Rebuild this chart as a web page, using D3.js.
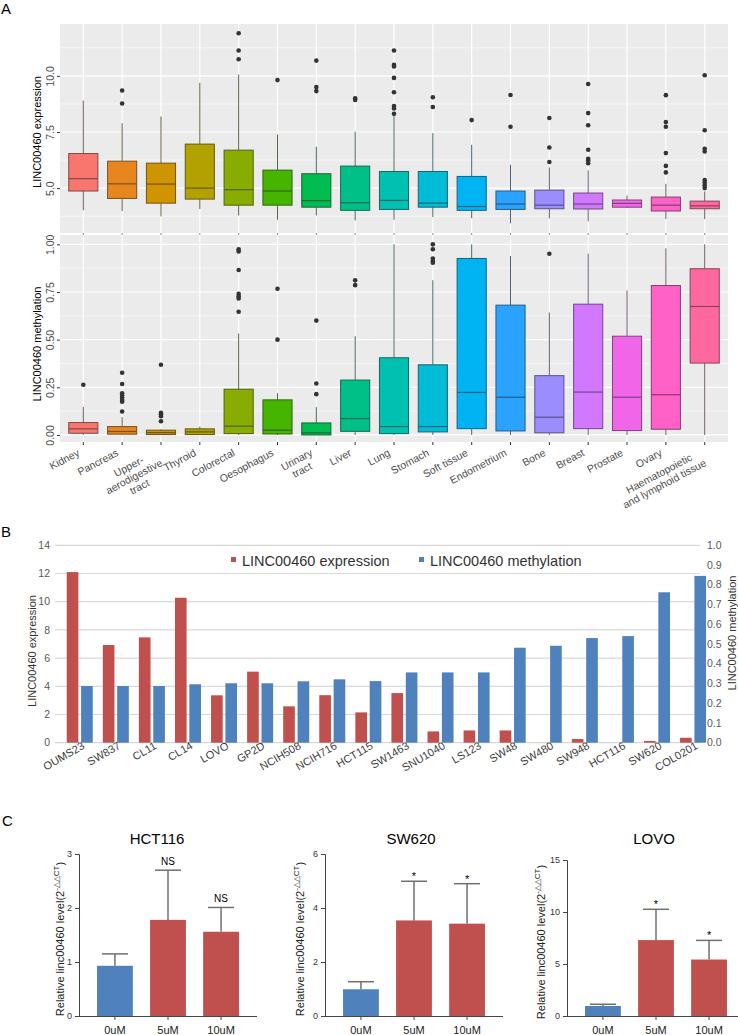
<!DOCTYPE html>
<html>
<head>
<meta charset="utf-8">
<script src="https://cdn.jsdelivr.net/npm/d3@7"></script>
<style>
  body { margin: 0; background: #fff; }
  text { font-family: "Liberation Sans", Arial, sans-serif; }
</style>
</head>
<body>
<svg id="fig" width="738" height="1035"></svg>
<script>
// ---- panel A : tissues, box stats [lower whisker, q1, median, q3, upper whisker]
var tissues = ["Kidney", "Pancreas", "Upper-\naerodigestive\ntract", "Thyroid", "Colorectal",
  "Oesophagus", "Urinary\ntract", "Liver", "Lung", "Stomach", "Soft tissue", "Endometrium",
  "Bone", "Breast", "Prostate", "Ovary", "Haematopoietic\nand lymphoid tissue"];

var exprBox = [
  [4.01, 4.87, 5.42, 6.54, 8.90], [3.98, 4.54, 5.19, 6.20, 7.89], [3.74, 4.33, 5.18, 6.11, 8.19],
  [4.07, 4.51, 5.00, 6.96, 9.69], [3.78, 4.24, 4.93, 6.69, 10.06], [3.59, 4.24, 4.87, 5.80, 7.39],
  [3.78, 4.15, 4.44, 5.64, 6.84], [3.56, 4.01, 4.35, 5.98, 7.51], [3.59, 4.05, 4.45, 5.74, 8.25],
  [3.71, 4.15, 4.33, 5.74, 7.45], [3.66, 4.01, 4.18, 5.52, 6.93], [3.43, 4.05, 4.29, 4.87, 6.04],
  [3.65, 4.08, 4.24, 4.91, 5.92], [3.52, 4.07, 4.29, 4.78, 5.79], [4.11, 4.15, 4.32, 4.47, 4.67],
  [3.62, 3.98, 4.24, 4.60, 5.19], [3.62, 4.08, 4.21, 4.42, 4.85]
];
var exprOut = [
  [], [9.35, 8.77], [], [], [11.90, 11.13, 10.74], [9.81], [10.68, 9.50, 9.32], [9.00, 8.93],
  [11.13, 10.49, 10.42, 9.91, 9.27, 8.66, 8.55, 8.31], [9.05, 8.61], [8.03], [9.15, 7.73],
  [8.12, 6.81, 6.16], [9.64, 8.34, 7.80, 6.71, 6.31, 6.23, 6.11], [],
  [9.14, 7.94, 7.73, 6.56, 5.99, 5.70], [10.03, 7.58, 6.75, 6.63, 5.36, 5.25, 5.13, 5.00]
];
var methBox = [
  [0, 0.009, 0.032, 0.065, 0.147], [0, 0.004, 0.018, 0.044, 0.093], [0, 0.002, 0.012, 0.025, 0.030],
  [0, 0.002, 0.016, 0.032, 0.044], [0, 0.007, 0.046, 0.240, 0.532], [0, 0.005, 0.025, 0.184, 0.219],
  [0, 0.000, 0.011, 0.063, 0.146], [0, 0.019, 0.086, 0.288, 0.518], [0, 0.007, 0.044, 0.405, 1.0],
  [0, 0.016, 0.044, 0.368, 0.812], [0, 0.033, 0.223, 0.926, 1.0], [0, 0.021, 0.198, 0.681, 0.939],
  [0, 0.011, 0.093, 0.311, 0.642], [0, 0.033, 0.225, 0.686, 0.951], [0, 0.023, 0.198, 0.518, 0.758],
  [0, 0.030, 0.211, 0.784, 0.979], [0, 0.377, 0.674, 0.872, 1.0]
];
var methOut = [
  [0.263], [0.326, 0.267, 0.219, 0.207, 0.196, 0.184, 0.174, 0.123],
  [0.368, 0.116, 0.109, 0.098, 0.072], [], [0.974, 0.963, 0.865, 0.740, 0.728, 0.716, 0.646],
  [0.767, 0.5], [0.6, 0.270, 0.214], [0.811, 0.786], [], [1.0, 0.974, 0.926, 0.912, 0.904],
  [], [], [0.951], [], [], [], []
];
var exprTicks = [5, 7.5, 10], exprMinor = [3.75, 6.25, 8.75, 11.25];
var methTicks = [0, 0.25, 0.5, 0.75, 1], methMinor = [0.125, 0.375, 0.625, 0.875];

// ---- panel B : cell lines
var cellLines = ["OUMS23", "SW837", "CL11", "CL14", "LOVO", "GP2D", "NCIH508", "NCIH716", "HCT115",
  "SW1463", "SNU1040", "LS123", "SW48", "SW480", "SW948", "HCT116", "SW620", "COL0201"];
var lineExpr = [12.1, 6.93, 7.47, 10.28, 3.36, 5.04, 2.58, 3.37, 2.15, 3.52, 0.80, 0.87, 0.87, 0, 0.26, 0, 0.12, 0.35];
var lineMeth = [0.287, 0.287, 0.287, 0.296, 0.301, 0.301, 0.311, 0.321, 0.312, 0.356, 0.356, 0.356,
  0.481, 0.491, 0.530, 0.540, 0.762, 0.845];

// ---- panel C : qPCR
var doses = ["0uM", "5uM", "10uM"];
var qCells = ["HCT116", "SW620", "LOVO"];
var qMean = [[0.93, 1.78, 1.56], [0.99, 3.54, 3.42], [0.96, 7.30, 5.43]];
var qSd = [[0.22, 0.92, 0.45], [0.28, 1.45, 1.48], [0.17, 2.96, 1.84]];
var qSig = [["", "NS", "NS"], ["", "*", "*"], ["", "*", "*"]];
var qTicks = [[0, 1, 2, 3], [0, 2, 4, 6], [0, 5, 10, 15]];

// ggplot-like hue palette (polar LUV, l=65 c=100)
function hueColor(h) {
  var L = 65, C = 100, hr = h * Math.PI / 180;
  var u = C * Math.cos(hr), v = C * Math.sin(hr);
  var Y = Math.pow((L + 16) / 116, 3);
  var up = u / (13 * L) + 0.1978398, vp = v / (13 * L) + 0.4683363;
  var X = 9 * Y * up / (4 * vp), Z = Y * (12 - 3 * up - 20 * vp) / (4 * vp);
  var lin = [3.240479 * X - 1.537150 * Y - 0.498535 * Z,
             -0.969256 * X + 1.875992 * Y + 0.041556 * Z,
             0.055648 * X - 0.204043 * Y + 1.057311 * Z];
  var c = lin.map(function(x) {
    x = x <= 0.0031308 ? 12.92 * x : 1.055 * Math.pow(x, 1 / 2.4) - 0.055;
    return Math.round(255 * Math.max(0, Math.min(1, x)));
  });
  return d3.rgb(c[0], c[1], c[2]).formatHex();
}
var fills = tissues.map(function(d, i) { return hueColor(15 + 360 * i / tissues.length); });

var svg = d3.select("#fig");

// panel letters
[["A", 1, 14], ["B", 1, 537], ["C", 2, 826]].forEach(function(p) {
  svg.append("text").attr("x", p[1]).attr("y", p[2]).attr("font-size", 15).text(p[0]);
});

// ================= Panel A =================
var xA = d3.scalePoint().domain(tissues).range([60, 728]).padding(0.6);
var facets = [
  {box: exprBox, out: exprOut, y: d3.scaleLinear().domain([3.0, 12.31]).range([233, 24]),
   ticks: exprTicks, minor: exprMinor, fmt: d3.format(".1f"), title: "LINC00460 expression", tY: 132},
  {box: methBox, out: methOut, y: d3.scaleLinear().domain([-0.037, 1.049]).range([442, 235]),
   ticks: methTicks, minor: methMinor, fmt: d3.format(".2f"), title: "LINC00460 methylation", tY: 344}
];

var boxW = xA.step() * 0.75;

facets.forEach(function(f) {
  var g = svg.append("g");
  var r = f.y.range();
  g.append("rect").attr("x", 60).attr("y", r[1]).attr("width", 668).attr("height", r[0] - r[1])
    .attr("fill", "#ebebeb");
  g.selectAll(".mn").data(f.minor).enter().append("line")
    .attr("x1", 60).attr("x2", 728).attr("y1", f.y).attr("y2", f.y)
    .attr("stroke", "#fff").attr("stroke-width", 0.6);
  g.selectAll(".mj").data(f.ticks).enter().append("line")
    .attr("x1", 60).attr("x2", 728).attr("y1", f.y).attr("y2", f.y)
    .attr("stroke", "#fff").attr("stroke-width", 1.2);
  g.selectAll(".vx").data(tissues).enter().append("line")
    .attr("x1", xA).attr("x2", xA).attr("y1", r[1]).attr("y2", r[0])
    .attr("stroke", "#fff").attr("stroke-width", 1.2);

  // y axis
  var ax = g.append("g").attr("transform", "translate(60,0)")
    .call(d3.axisLeft(f.y).tickValues(f.ticks).tickSize(3).tickFormat(f.fmt));
  ax.select(".domain").remove();
  ax.selectAll("line").attr("stroke", "#333");
  ax.selectAll("text").attr("x", 0).attr("y", -6.5).attr("dy", 0)
    .attr("text-anchor", "middle").attr("transform", "rotate(-90)")
    .attr("fill", "#4d4d4d").attr("font-size", 10.5).attr("font-family", null);

  g.append("text").attr("transform", "translate(41," + f.tY + ") rotate(-90)")
    .attr("text-anchor", "middle").attr("font-size", 11).text(f.title);

  // boxes
  tissues.forEach(function(t, i) {
    var s = f.box[i], cx = xA(t);
    var stroke = d3.interpolateRgb(fills[i], "#222")(0.55);
    var whisk = d3.interpolateRgb(fills[i], "#555")(0.8);
    g.append("line").attr("x1", cx).attr("x2", cx).attr("y1", f.y(s[0])).attr("y2", f.y(s[1]))
      .attr("stroke", whisk).attr("stroke-width", 1);
    g.append("line").attr("x1", cx).attr("x2", cx).attr("y1", f.y(s[3])).attr("y2", f.y(s[4]))
      .attr("stroke", whisk).attr("stroke-width", 1);
    g.append("rect").attr("x", cx - boxW / 2).attr("width", boxW)
      .attr("y", f.y(s[3])).attr("height", Math.max(1, f.y(s[1]) - f.y(s[3])))
      .attr("fill", fills[i]).attr("stroke", stroke).attr("stroke-width", 1);
    g.append("line").attr("x1", cx - boxW / 2).attr("x2", cx + boxW / 2)
      .attr("y1", f.y(s[2])).attr("y2", f.y(s[2])).attr("stroke", stroke).attr("stroke-width", 1.2);
    g.selectAll(null).data(f.out[i]).enter().append("circle")
      .attr("cx", cx).attr("cy", f.y).attr("r", 2.3).attr("fill", "#333");
  });
});

// little ticks between facets and x ticks
svg.selectAll(".gapTick").data(tissues).enter().append("line")
  .attr("x1", xA).attr("x2", xA).attr("y1", 233).attr("y2", 235).attr("stroke", "#888");
svg.selectAll(".xTick").data(tissues).enter().append("line")
  .attr("x1", xA).attr("x2", xA).attr("y1", 442).attr("y2", 445).attr("stroke", "#333");

// x labels, multi-line centred, rotated
tissues.forEach(function(t) {
  var lines = t.split("\n");
  var g = svg.append("g").attr("transform", "translate(" + (xA(t) - 3) + ",455) rotate(-28)");
  var txt = g.selectAll("text").data(lines).enter().append("text")
    .attr("y", function(d, i) { return i * 11.5; })
    .attr("text-anchor", "middle").attr("font-size", 10.5).attr("fill", "#4d4d4d").text(function(d) { return d; });
  var maxW = d3.max(txt.nodes(), function(n) { return n.getComputedTextLength(); });
  txt.attr("x", -maxW / 2);
});

// ================= Panel B =================
var xB = d3.scaleBand().domain(cellLines).range([61.7, 711.1]);
var subB = d3.scaleBand().domain(["expr", "meth"]).range([0, xB.bandwidth()]).paddingInner(0.19).paddingOuter(0.35);
var yB = d3.scaleLinear().domain([0, 14]).range([742.7, 545.3]);
var yB2 = d3.scaleLinear().domain([0, 1]).range([742.7, 545.3]);
var red = "#c0504d", blue = "#4f81bd";

var gB = svg.append("g");
gB.selectAll(".gridB").data(d3.range(0, 15, 2)).enter().append("line")
  .attr("x1", 55).attr("x2", 700).attr("y1", yB).attr("y2", yB)
  .attr("stroke", "#d9d9d9").attr("stroke-width", 1.2);
gB.selectAll(".lt").data(d3.range(0, 15, 2)).enter().append("text")
  .attr("x", 50).attr("y", yB).attr("dy", "0.35em").attr("text-anchor", "end")
  .attr("font-size", 10.5).attr("fill", "#595959").text(function(d) { return d; });
gB.selectAll(".rt").data(d3.range(0, 11).map(function(d) { return d / 10; })).enter().append("text")
  .attr("x", 707).attr("y", yB2).attr("dy", "0.35em").attr("text-anchor", "start")
  .attr("font-size", 10.5).attr("fill", "#595959").text(d3.format(".1f"));

gB.selectAll(".barE").data(cellLines).enter().append("rect")
  .attr("x", function(d) { return xB(d) + subB("expr"); }).attr("width", subB.bandwidth())
  .attr("y", function(d, i) { return yB(lineExpr[i]); })
  .attr("height", function(d, i) { return yB(0) - yB(lineExpr[i]); }).attr("fill", red);
gB.selectAll(".barM").data(cellLines).enter().append("rect")
  .attr("x", function(d) { return xB(d) + subB("meth"); }).attr("width", subB.bandwidth())
  .attr("y", function(d, i) { return yB2(lineMeth[i]); })
  .attr("height", function(d, i) { return yB2(0) - yB2(lineMeth[i]); }).attr("fill", blue);

cellLines.forEach(function(c) {
  svg.append("text")
    .attr("transform", "translate(" + (xB(c) + xB.bandwidth() / 2 + 5.5) + ",748) rotate(-30)")
    .attr("text-anchor", "end").attr("font-size", 11).attr("fill", "#404040").text(c);
});

svg.append("text").attr("transform", "translate(36,651) rotate(-90)").attr("text-anchor", "middle")
  .attr("font-size", 11).attr("fill", "#333").text("LINC00460 expression");
svg.append("text").attr("transform", "translate(736,633) rotate(-90)").attr("text-anchor", "middle")
  .attr("font-size", 11).attr("fill", "#333").text("LINC00460 methylation");

// legend
[["LINC00460 expression", red, 231], ["LINC00460 methylation", blue, 419]].forEach(function(l) {
  svg.append("rect").attr("x", l[2]).attr("y", 557).attr("width", 5).attr("height", 5).attr("fill", l[1]);
  svg.append("text").attr("x", l[2] + 11).attr("y", 566).attr("font-size", 14.5).attr("fill", "#333").text(l[0]);
});

// ================= Panel C =================
var cAxisX = [79, 325, 567];
var cTop = [854, 854, 860];
var cBase = 1016, cW = 178;
var cTitleX = [157, 411, 654];
var cLabelX = [64, 304, 545];

qCells.forEach(function(cell, k) {
  var g = svg.append("g");
  var x = d3.scaleBand().domain(doses).range([cAxisX[k], cAxisX[k] + cW]).paddingInner(0.325).paddingOuter(0.34);
  var y = d3.scaleLinear().domain([0, d3.max(qTicks[k])]).range([cBase, cTop[k]]);

  g.append("text").attr("x", cTitleX[k]).attr("y", 844).attr("text-anchor", "middle")
    .attr("font-size", 15).text(cell);

  g.selectAll("rect").data(doses).enter().append("rect")
    .attr("x", x).attr("width", x.bandwidth())
    .attr("y", function(d, i) { return y(qMean[k][i]); })
    .attr("height", function(d, i) { return cBase - y(qMean[k][i]); })
    .attr("fill", function(d, i) { return i === 0 ? blue : red; });

  doses.forEach(function(d, i) {
    var cx = x(d) + x.bandwidth() / 2, top = y(qMean[k][i] + qSd[k][i]);
    g.append("line").attr("x1", cx).attr("x2", cx).attr("y1", y(qMean[k][i])).attr("y2", top)
      .attr("stroke", "#707070").attr("stroke-width", 1.5);
    g.append("line").attr("x1", cx - 13).attr("x2", cx + 13).attr("y1", top).attr("y2", top)
      .attr("stroke", "#707070").attr("stroke-width", 1.5);
    if (qSig[k][i]) {
      g.append("text").attr("x", cx).attr("y", qSig[k][i] === "*" ? top - 1 : top - 5)
        .attr("text-anchor", "middle").attr("font-size", qSig[k][i] === "*" ? 11 : 10).text(qSig[k][i]);
    }
  });

  var ay = g.append("g").attr("transform", "translate(" + cAxisX[k] + ",0)")
    .call(d3.axisLeft(y).tickValues(qTicks[k]).tickSize(4).tickFormat(d3.format("d")));
  ay.selectAll("text").attr("font-size", 9).attr("font-family", null).attr("fill", "#333");
  ay.selectAll("line, path").attr("stroke", "#444");

  var ax = g.append("g").attr("transform", "translate(0," + cBase + ")")
    .call(d3.axisBottom(x).tickSize(4).tickSizeOuter(0));
  ax.select(".domain").attr("d", "M" + cAxisX[k] + ",0.5H" + (cAxisX[k] + cW)).attr("stroke", "#444");
  ax.selectAll("line").attr("stroke", "#444");
  ax.selectAll("text").attr("font-size", 11).attr("font-family", null).attr("fill", "#222").attr("y", 10);

  var t = g.append("text").attr("transform", "translate(" + cLabelX[k] + "," + ((cBase + cTop[k]) / 2 + 4) + ") rotate(-90)")
    .attr("text-anchor", "middle").attr("font-size", 11).attr("fill", "#222");
  t.append("tspan").text("Relative linc00460 level(2");
  t.append("tspan").attr("font-size", 8).attr("dy", -5).text("-\u25B3\u25B3CT");
  t.append("tspan").attr("dy", 5).text(")");
});
</script>
</body>
</html>
